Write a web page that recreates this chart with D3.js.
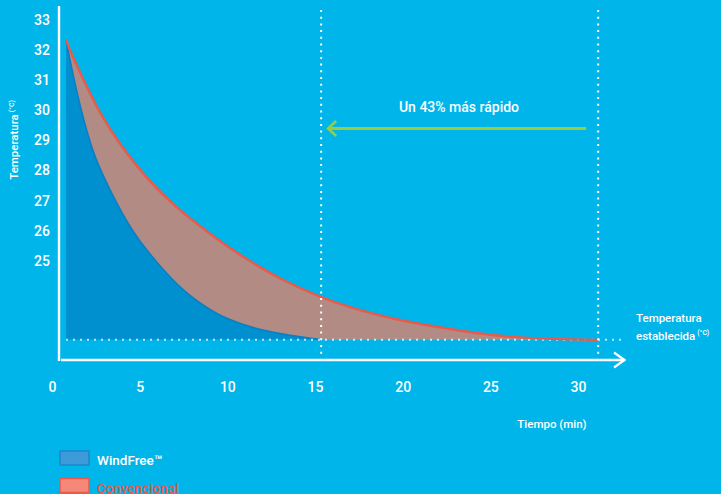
<!DOCTYPE html>
<html>
<head>
<meta charset="utf-8">
<script src="https://cdn.jsdelivr.net/npm/d3@7"></script>
<style>
  html, body { margin: 0; padding: 0; background: #00b5e9; }
  svg { display: block; font-family: Roboto, "Open Sans", sans-serif; }
</style>
</head>
<body>
<svg id="chart" width="721" height="494"></svg>
<script>
// Cooling curves: room temperature (°C) over time (min)
const convTime = [0.8, 1.22, 2.93, 4.83, 6.73, 9.40, 11.29, 13.19, 15.29, 17.0, 19.85, 22.52, 24.42, 26.31, 28.22, 31.15];
const convTemp = [32.34, 31.74, 29.74, 28.16, 26.98, 25.73, 24.99, 24.36, 23.81, 23.46, 23.03, 22.75, 22.58, 22.47, 22.41, 22.37];
const windTime = [0.8, 1.37, 1.94, 2.45, 3.41, 4.55, 5.59, 7.49, 9.40, 11.29, 13.19, 15.35];
const windTemp = [32.34, 30.74, 29.41, 28.48, 27.24, 26.05, 25.22, 24.03, 23.25, 22.81, 22.56, 22.38];
const setTemp = 22.37;
const windDone = 15.35;   // WindFree reaches the set temperature
const convDone = 31.15;   // conventional unit reaches the set temperature
const xTicks = [0, 5, 10, 15, 20, 25, 30];
const yTicks = [25, 26, 27, 28, 29, 30, 31, 32, 33];
const seriesNames = ["WindFree™", "Convencional"];

const svg = d3.select("#chart");
const x = d3.scaleLinear().domain([0, 30]).range([52, 578]);
const y = d3.scaleLinear().domain([21.7, 33]).range([360, 20]);

const conv = convTime.map((t, i) => ({ t, v: convTemp[i] }));
const wind = windTime.map((t, i) => ({ t, v: windTemp[i] }));

const smooth = d3.curveCatmullRom.alpha(0.5);
const area = d3.area().x(d => x(d.t)).y0(y(setTemp)).y1(d => y(d.v)).curve(smooth);
const line = d3.line().x(d => x(d.t)).y(d => y(d.v)).curve(smooth);

// Conventional band
svg.append("path").attr("d", area(conv)).attr("fill", "#b28b84");
// WindFree area
svg.append("path").attr("d", area(wind)).attr("fill", "#008fcf");
svg.append("path").attr("d", line(wind)).attr("fill", "none")
  .attr("stroke", "#0a7fc3").attr("stroke-width", 1.6);

// Set-temperature dotted line
svg.append("line")
  .attr("x1", x(convTime[0])).attr("x2", 622)
  .attr("y1", y(setTemp)).attr("y2", y(setTemp))
  .attr("stroke", "#ffffff").attr("stroke-opacity", 0.75)
  .attr("stroke-width", 2).attr("stroke-dasharray", "2,5");

// Conventional curve
svg.append("path").attr("d", line(conv)).attr("fill", "none")
  .attr("stroke", "#ea5a4a").attr("stroke-width", 2.4);

// Vertical dotted markers
[windDone, convDone].forEach(t => {
  svg.append("line")
    .attr("x1", x(t)).attr("x2", x(t))
    .attr("y1", 10).attr("y2", 358)
    .attr("stroke", "#ffffff").attr("stroke-width", 2)
    .attr("stroke-dasharray", "2,4.7");
});

// Axes lines
svg.append("line").attr("x1", 59).attr("x2", 59).attr("y1", 6).attr("y2", 361)
  .attr("stroke", "#fff").attr("stroke-width", 2.4);
svg.append("line").attr("x1", 61).attr("x2", 625).attr("y1", 360).attr("y2", 360)
  .attr("stroke", "#fff").attr("stroke-width", 2.4);
svg.append("path").attr("d", "M614,352.5L624.5,360L614,367.5")
  .attr("fill", "none").attr("stroke", "#fff").attr("stroke-width", 2.2);

// Tick labels
const xAxis = svg.append("g").attr("transform", "translate(0,360)")
  .call(d3.axisBottom(x).tickValues(xTicks).tickSize(0).tickPadding(22));
const yAxis = svg.append("g").attr("transform", "translate(59,0)")
  .call(d3.axisLeft(y).tickValues(yTicks).tickSize(0).tickPadding(9));
[xAxis, yAxis].forEach(g => {
  g.select(".domain").remove();
  g.selectAll("text").attr("fill", "#fff").attr("font-size", 14)
    .attr("font-weight", 500).attr("font-family", "Roboto, sans-serif");
});

// Axis titles
const yTitle = svg.append("text")
  .attr("transform", "translate(18,140) rotate(-90)")
  .attr("text-anchor", "middle").attr("fill", "#fff")
  .attr("font-size", 11.5).attr("font-weight", 500);
yTitle.append("tspan").text("Temperatura");
yTitle.append("tspan").attr("font-size", 7).attr("dx", 2).attr("dy", -4).text("(°C)");

svg.append("text").attr("x", 552).attr("y", 428).attr("text-anchor", "middle")
  .attr("fill", "#fff").attr("font-size", 11.5).attr("font-weight", 500)
  .text("Tiempo (min)");

svg.append("text").attr("x", 636).attr("y", 322).attr("fill", "#fff")
  .attr("font-size", 11.5).attr("font-weight", 500).text("Temperatura");
const est = svg.append("text").attr("x", 636).attr("y", 340).attr("fill", "#fff")
  .attr("font-size", 11.5).attr("font-weight", 500);
est.append("tspan").text("establecida");
est.append("tspan").attr("font-size", 7).attr("dx", 2).attr("dy", -5).text("(°C)");

// Speed annotation arrow
const ay = 128.5;
svg.append("line").attr("x1", x(convDone) - 12).attr("x2", x(windDone) + 7)
  .attr("y1", ay).attr("y2", ay)
  .attr("stroke", "#9ecb3c").attr("stroke-width", 3);
svg.append("path")
  .attr("d", `M${x(windDone) + 15},${ay - 7.5}L${x(windDone) + 7},${ay}L${x(windDone) + 15},${ay + 7.5}`)
  .attr("fill", "none").attr("stroke", "#9ecb3c").attr("stroke-width", 2.6);
svg.append("text").attr("x", 459).attr("y", 112).attr("text-anchor", "middle")
  .attr("fill", "#fff").attr("font-size", 14).attr("font-weight", 500)
  .text("Un 43% más rápido");

// Legend
const legendFill = ["#3c9bd8", "#f4897a"];
const legendStroke = ["#1c87cb", "#ea5a4a"];
const legendText = ["#ffffff", "#e8574a"];
seriesNames.forEach((name, i) => {
  const ly = 451 + i * 27.5;
  svg.append("rect").attr("x", 60).attr("y", ly).attr("width", 29).attr("height", 14)
    .attr("fill", legendFill[i]).attr("stroke", legendStroke[i]).attr("stroke-width", 1.5);
  svg.append("text").attr("x", 97).attr("y", ly + 14).attr("fill", legendText[i])
    .attr("font-size", 13.5).attr("font-weight", 500).text(name);
});
</script>
</body>
</html>
